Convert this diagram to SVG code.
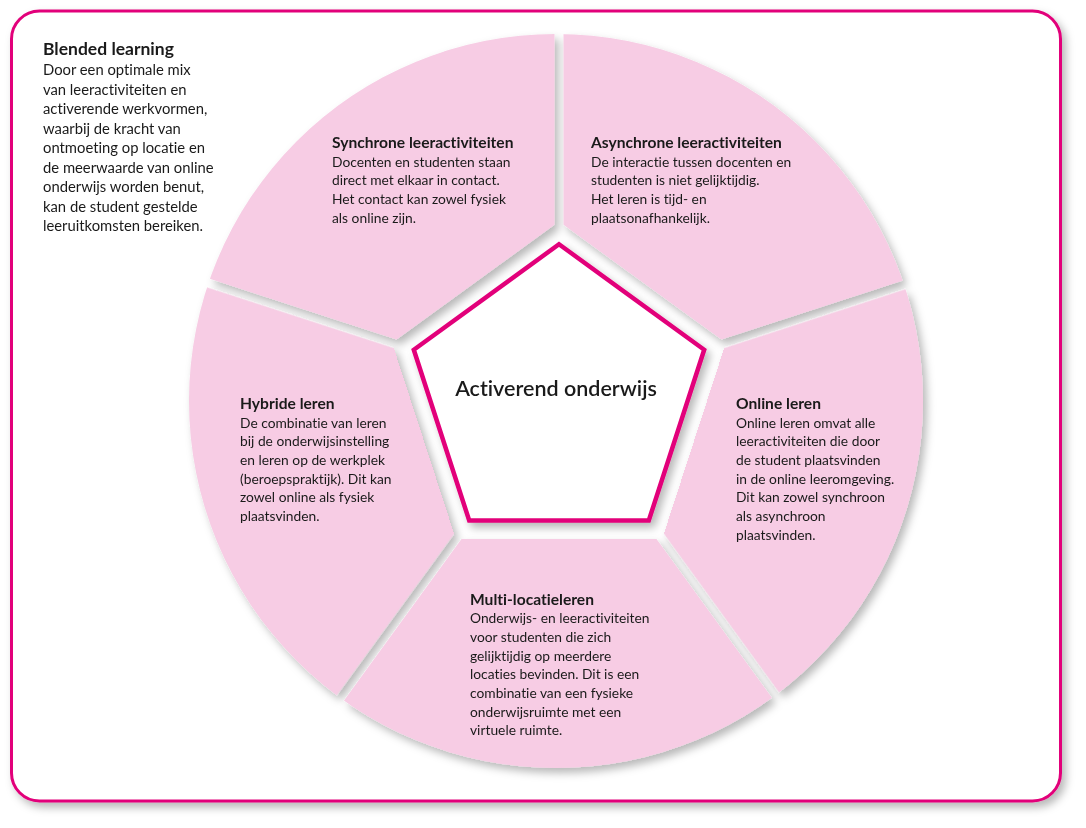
<svg xmlns="http://www.w3.org/2000/svg" width="1086" height="828" viewBox="0 0 1086 828">
<defs>
<style>
.t{font-family:Lato,"Noto Sans","Liberation Sans",sans-serif;fill:#1a1a1a;font-variant-ligatures:none;font-feature-settings:"liga" 0}
.h{font-weight:700;font-size:15.6px}
.b{font-size:13.8px}
.bl{font-size:14.8px}
.wedge{fill:#f7cce4}
</style>
<filter id="sh" x="-10%" y="-10%" width="120%" height="120%">
<feDropShadow dx="4" dy="5" stdDeviation="4" flood-color="#000" flood-opacity="0.28"/>
</filter>
<clipPath id="circ" clipPathUnits="userSpaceOnUse"><circle cx="556" cy="401" r="367"/></clipPath>
<polygon id="wp" points="142,-97.6 423.3,-302 560,0 423.3,302 142,97.6"/>
</defs>
<rect x="0" y="0" width="1086" height="828" fill="#fff"/>
<g id="frame" filter="url(#sh)">
<rect x="11.5" y="11" width="1049" height="790" rx="28" ry="28" fill="#fff" stroke="#e2007a" stroke-width="3"/>
</g>
<g id="wedges" filter="url(#sh)">
<g clip-path="url(#circ)">
<g id="w-sync"><use href="#wp" class="wedge" transform="translate(559,397) rotate(-126)"/></g>
<g id="w-async"><use href="#wp" class="wedge" transform="translate(559,397) rotate(-54)"/></g>
<g id="w-online"><use href="#wp" class="wedge" transform="translate(559,397) rotate(18)"/></g>
<g id="w-multi"><use href="#wp" class="wedge" transform="translate(559,397) rotate(90)"/></g>
<g id="w-hybride"><use href="#wp" class="wedge" transform="translate(559,397) rotate(162)"/></g>
</g>
</g>
<g id="center" filter="url(#sh)">
<polygon points="559,244.3 704.2,349.8 648.8,520.5 469.2,520.5 413.8,349.8" fill="#fff" stroke="#e2007a" stroke-width="4.5"/>
</g>
<g id="center-label"><text class="t" x="556" y="396" text-anchor="middle" font-size="21.5" font-weight="600">Activerend onderwijs</text></g>
<g id="blended">
<text class="t h" x="43" y="55" style="font-size:17.5px">Blended learning</text>
<text class="t bl" x="43" y="75">Door een optimale mix</text>
<text class="t bl" x="43" y="94.5">van leeractiviteiten en</text>
<text class="t bl" x="43" y="114">activerende werkvormen,</text>
<text class="t bl" x="43" y="133.5">waarbij de kracht van</text>
<text class="t bl" x="43" y="153">ontmoeting op locatie en</text>
<text class="t bl" x="43" y="172.5">de meerwaarde van online</text>
<text class="t bl" x="43" y="192">onderwijs worden benut,</text>
<text class="t bl" x="43" y="211.5">kan de student gestelde</text>
<text class="t bl" x="43" y="231">leeruitkomsten bereiken.</text>
</g>
<g id="sync">
<text class="t h" x="332" y="148">Synchrone leeractiviteiten</text>
<text class="t b" x="332" y="166.5">Docenten en studenten staan</text>
<text class="t b" x="332" y="185.2">direct met elkaar in contact.</text>
<text class="t b" x="332" y="203.9">Het contact kan zowel fysiek</text>
<text class="t b" x="332" y="222.6">als online zijn.</text>
</g>
<g id="async">
<text class="t h" x="591" y="148">Asynchrone leeractiviteiten</text>
<text class="t b" x="591" y="166.5">De interactie tussen docenten en</text>
<text class="t b" x="591" y="185.2">studenten is niet gelijktijdig.</text>
<text class="t b" x="591" y="203.9">Het leren is tijd- en</text>
<text class="t b" x="591" y="222.6">plaatsonafhankelijk.</text>
</g>
<g id="online">
<text class="t h" x="736" y="409">Online leren</text>
<text class="t b" x="736" y="427.5">Online leren omvat alle</text>
<text class="t b" x="736" y="446.2">leeractiviteiten die door</text>
<text class="t b" x="736" y="464.9">de student plaatsvinden</text>
<text class="t b" x="736" y="483.6">in de online leeromgeving.</text>
<text class="t b" x="736" y="502.3">Dit kan zowel synchroon</text>
<text class="t b" x="736" y="521">als asynchroon</text>
<text class="t b" x="736" y="539.7">plaatsvinden.</text>
</g>
<g id="hybride">
<text class="t h" x="240" y="409">Hybride leren</text>
<text class="t b" x="240" y="427.5">De combinatie van leren</text>
<text class="t b" x="240" y="446.2">bij de onderwijsinstelling</text>
<text class="t b" x="240" y="464.9">en leren op de werkplek</text>
<text class="t b" x="240" y="483.6">(beroepspraktijk). Dit kan</text>
<text class="t b" x="240" y="502.3">zowel online als fysiek</text>
<text class="t b" x="240" y="521">plaatsvinden.</text>
</g>
<g id="multi">
<text class="t h" x="470" y="604.5">Multi-locatieleren</text>
<text class="t b" x="470" y="623.2">Onderwijs- en leeractiviteiten</text>
<text class="t b" x="470" y="641.9">voor studenten die zich</text>
<text class="t b" x="470" y="660.6">gelijktijdig op meerdere</text>
<text class="t b" x="470" y="679.3">locaties bevinden. Dit is een</text>
<text class="t b" x="470" y="698">combinatie van een fysieke</text>
<text class="t b" x="470" y="716.7">onderwijsruimte met een</text>
<text class="t b" x="470" y="735.4">virtuele ruimte.</text>
</g>
</svg>
